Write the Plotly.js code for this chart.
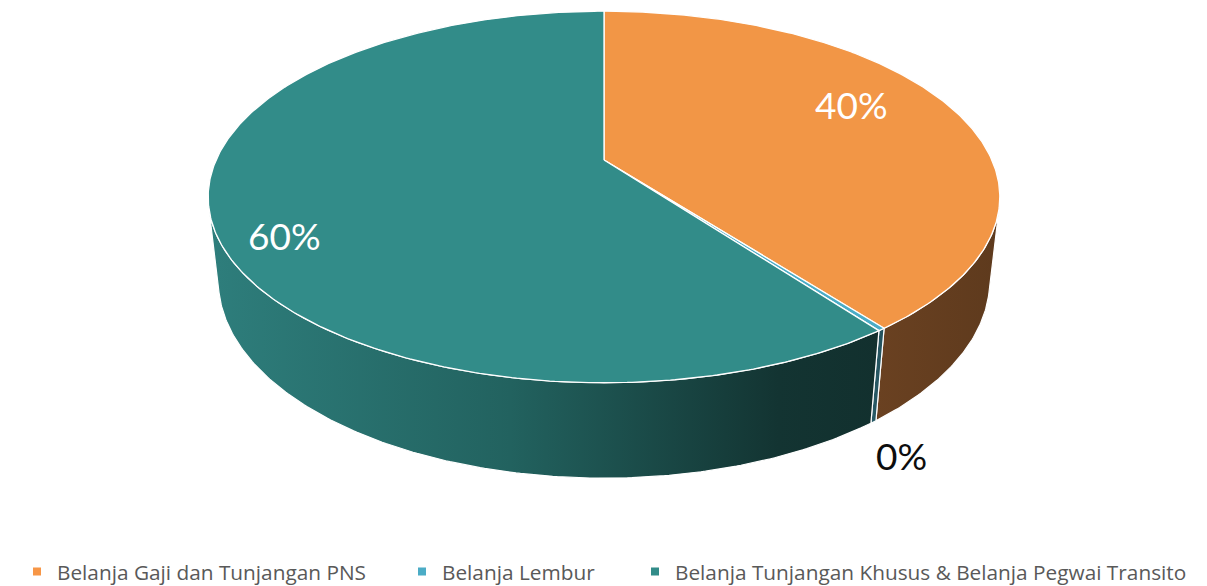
<!DOCTYPE html>
<html>
<head>
<meta charset="utf-8">
<script src="https://cdn.plot.ly/plotly-3.0.1.min.js"></script>
<style>html,body{margin:0;padding:0;background:#fff;}#chart{width:1207px;height:586px;}</style>
</head>
<body>
<div id="chart"></div>
<script>
// ---- data ----
const categories = ['Belanja Gaji dan Tunjangan PNS', 'Belanja Lembur', 'Belanja Tunjangan Khusus & Belanja Pegwai Transito'];
const shares = [39.6, 0.25, 60.15];
const pctLabels = shares.map(v => Math.round(v) + '%');

// ---- styles ----
const topColors = ['#F29646', '#4BACC6', '#328C89'];
const sideScales = [
  [[0, '#6A4121'], [1, '#5E3A1D']],
  [[0, '#2A5C68'], [1, '#22505B']],
  [[0, '#2E7E7C'], [0.45, '#22625F'], [0.85, '#133432'], [1, '#12302E']]
];
const legendColors = ['#F79646', '#4BACC6', '#328C89'];
const labelColors = ['#FFFFFF', '#0D0D0D', '#FFFFFF'];
const labelOutside = [false, true, false];
const labelShift = [[-15, -15], [28, 34], [-30, 31]];
const legendX = [17, 402, 635];

// ---- projection (3D tilted pie with perspective) ----
const W = 1207, H = 586;
const CX = 604, CY = 160, F = 1730, D = 4.46, SE = 0.46, CE = 0.888, T = 0.245;
function proj(u, v, Y) {
  const depth = D - (Y * SE + v * CE);
  return [CX + F * u / depth, CY + F * (v * SE - Y * CE) / depth];
}
function rim(theta, r, Y) { return proj(r * Math.sin(theta), -r * Math.cos(theta), Y); }

const total = shares.reduce((a, b) => a + b, 0);
const bounds = [];
let acc = 0;
shares.forEach(v => { const a = acc / total * 2 * Math.PI; acc += v; bounds.push([a, acc / total * 2 * Math.PI]); });

const vmin = 1 / (D * CE);
const visA = Math.acos(-vmin), visB = 2 * Math.PI - Math.acos(-vmin);

const traces = [];
function arcPts(a, b, r, Y) {
  const n = Math.max(2, Math.ceil((b - a) / 0.01));
  const pts = [];
  for (let k = 0; k <= n; k++) pts.push(rim(a + (b - a) * k / n, r, Y));
  return pts;
}
// side faces
bounds.forEach((bd, i) => {
  const a = Math.max(bd[0], visA), b = Math.min(bd[1], visB);
  if (b <= a) return;
  const topPts = arcPts(a, b, 1, 0);
  const botPts = arcPts(a, b, 1, -T).reverse();
  const pts = topPts.concat(botPts);
  pts.push(topPts[0]);
  traces.push({
    type: 'scatter', mode: 'lines', x: pts.map(p => p[0]), y: pts.map(p => p[1]),
    fill: 'toself', fillgradient: {type: 'horizontal', colorscale: sideScales[i]},
    line: {color: '#FFFFFF', width: 1.2}, hoverinfo: 'skip', showlegend: false
  });
});
// top faces
bounds.forEach((bd, i) => {
  const c = proj(0, 0, 0);
  const pts = [c].concat(arcPts(bd[0], bd[1], 1, 0));
  pts.push(c);
  traces.push({
    type: 'scatter', mode: 'lines', x: pts.map(p => p[0]), y: pts.map(p => p[1]),
    fill: 'toself', fillcolor: topColors[i],
    line: {color: '#FFFFFF', width: 1.3}, hoverinfo: 'skip', showlegend: false
  });
});
// legend entries
categories.forEach((name, i) => {
  traces.push({
    type: 'scatter', mode: 'markers', x: [null], y: [null], name: name,
    marker: {symbol: 'square', size: 8, color: legendColors[i]},
    legend: i === 0 ? 'legend' : 'legend' + (i + 1), hoverinfo: 'skip'
  });
});

// labels
const annotations = bounds.map((bd, i) => {
  const mid = (bd[0] + bd[1]) / 2;
  const p = labelOutside[i] ? rim(mid, 1, -T) : rim(mid, 0.75, 0);
  return {
    x: p[0], y: p[1], xref: 'x', yref: 'y', text: pctLabels[i], showarrow: false,
    xshift: labelShift[i][0], yshift: -labelShift[i][1],
    font: {family: 'Lato, Calibri, sans-serif', size: 37, color: labelColors[i]}
  };
});

const legendBase = {
  orientation: 'h', yanchor: 'middle', xanchor: 'left', y: 1 - 572 / H,
  font: {family: '"Open Sans", sans-serif', size: 20.8, color: '#595959'},
  bgcolor: 'rgba(0,0,0,0)', itemwidth: 30
};
const layout = {
  width: W, height: H, margin: {l: 0, r: 0, t: 0, b: 0, autoexpand: false},
  paper_bgcolor: '#FFFFFF', plot_bgcolor: '#FFFFFF',
  xaxis: {range: [0, W], visible: false, fixedrange: true},
  yaxis: {range: [H, 0], visible: false, fixedrange: true},
  showlegend: true,
  legend: Object.assign({}, legendBase, {x: legendX[0] / W}),
  legend2: Object.assign({}, legendBase, {x: legendX[1] / W}),
  legend3: Object.assign({}, legendBase, {x: legendX[2] / W}),
  annotations: annotations
};
Plotly.newPlot('chart', traces, layout, {displayModeBar: false, staticPlot: true});
</script>
</body>
</html>
